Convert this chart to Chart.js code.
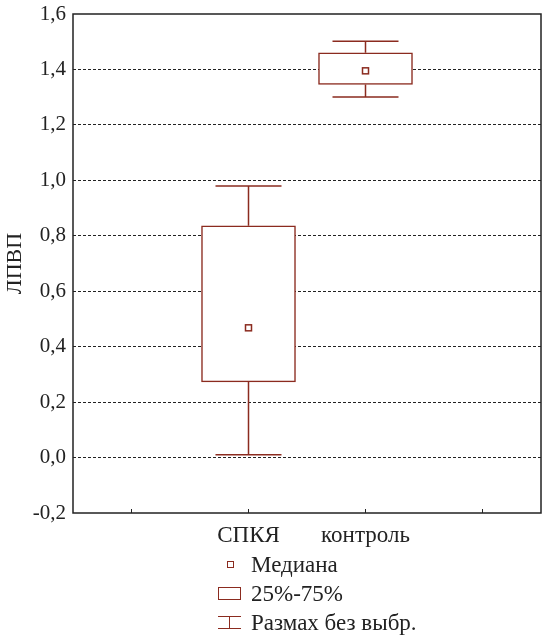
<!DOCTYPE html>
<html>
<head>
<meta charset="utf-8">
<script src="https://cdn.jsdelivr.net/npm/chart.js@4.4.0/dist/chart.umd.min.js"></script>
<style>
  body { margin: 0; background: #fff; }
  #wrap { position: relative; width: 544px; height: 642px; }
  #legend { position: absolute; left: 218px; top: 550px; font: 23px "Liberation Serif", serif; color: #222; }
  .item { position: relative; height: 29px; line-height: 29px; padding-left: 33px; white-space: nowrap; }
  .sym { position: absolute; box-sizing: border-box; }
  .med { left: 9px; top: 11px; width: 7px; height: 7px; border: 1.5px solid #8b2b1f; }
  .box { left: 0; top: 8px; width: 23px; height: 13px; border: 1.5px solid #8b2b1f; }
  .wh { left: 0; top: 8px; width: 23px; height: 13px; border-top: 1.5px solid #8b2b1f; border-bottom: 1.5px solid #8b2b1f; }
  .wh::after { content: ''; position: absolute; left: 10.5px; top: 0; width: 1.5px; height: 100%; background: #8b2b1f; }
</style>
</head>
<body>
<div id="wrap">
  <canvas id="chart" width="544" height="642"></canvas>
  <div id="legend">
    <div class="item"><span class="sym med"></span>Медиана</div>
    <div class="item"><span class="sym box"></span>25%-75%</div>
    <div class="item"><span class="sym wh"></span>Размах без выбр.</div>
  </div>
</div>
<script>
var categories = ['', 'СПКЯ', 'контроль', ''];
var q1 = [null, 0.273, 1.346, null];
var q3 = [null, 0.836, 1.460, null];
var median = [null, 0.468, 1.395, null];
var whiskerLow = [null, 0.010, 1.301, null];
var whiskerHigh = [null, 0.980, 1.502, null];
var yMin = -0.2, yMax = 1.6, yStep = 0.2;

var red = '#8b2b1f';

var boxExtras = {
  id: 'boxExtras',
  afterDatasetsDraw: function (chart) {
    var ctx = chart.ctx;
    var xs = chart.scales.x, ys = chart.scales.y;
    var area = chart.chartArea;
    ctx.save();
    ctx.strokeStyle = red;
    ctx.lineWidth = 1.5;
    for (var i = 0; i < categories.length; i++) {
      if (median[i] == null) continue;
      var x = xs.getPixelForValue(i);
      var hw = 33;
      ctx.beginPath();
      ctx.moveTo(x, ys.getPixelForValue(q3[i]));
      ctx.lineTo(x, ys.getPixelForValue(whiskerHigh[i]));
      ctx.moveTo(x - hw, ys.getPixelForValue(whiskerHigh[i]));
      ctx.lineTo(x + hw, ys.getPixelForValue(whiskerHigh[i]));
      ctx.moveTo(x, ys.getPixelForValue(q1[i]));
      ctx.lineTo(x, ys.getPixelForValue(whiskerLow[i]));
      ctx.moveTo(x - hw, ys.getPixelForValue(whiskerLow[i]));
      ctx.lineTo(x + hw, ys.getPixelForValue(whiskerLow[i]));
      ctx.stroke();
      var my = ys.getPixelForValue(median[i]);
      ctx.strokeRect(x - 3, my - 3, 6, 6);
    }
    // frame and inner ticks
    ctx.strokeStyle = '#222';
    ctx.lineWidth = 1.5;
    ctx.strokeRect(area.left, area.top, area.right - area.left, area.bottom - area.top);
    ctx.lineWidth = 1;
    ctx.beginPath();
    for (var j = 0; j < categories.length; j++) {
      var tx = xs.getPixelForTick(j);
      ctx.moveTo(tx, area.bottom);
      ctx.lineTo(tx, area.bottom - 4);
    }
    ctx.stroke();
    ctx.restore();
  }
};

new Chart(document.getElementById('chart'), {
  type: 'bar',
  data: {
    labels: categories,
    datasets: [{
      label: '25%-75%',
      data: categories.map(function (c, i) { return q1[i] == null ? null : [q1[i], q3[i]]; }),
      backgroundColor: '#ffffff',
      borderColor: red,
      borderWidth: 1.5,
      borderSkipped: false,
      barThickness: 94
    }]
  },
  options: {
    responsive: false,
    animation: false,
    layout: { padding: { top: 14, right: 3, left: 0, bottom: 0 } },
    plugins: { legend: { display: false }, tooltip: { enabled: false } },
    scales: {
      x: {
        grid: { display: false },
        border: { display: false },
        ticks: {
          padding: 1,
          color: '#222',
          font: { family: '"Liberation Serif", serif', size: 23 }
        },
        afterFit: function (s) { s.height = 129; s.paddingLeft = 0; s.paddingRight = 0; }
      },
      y: {
        min: yMin,
        max: yMax,
        grid: {
          drawTicks: false,
          color: function (c) {
            var v = c.tick.value;
            return (Math.abs(v - yMin) < 1e-6 || Math.abs(v - yMax) < 1e-6) ? 'rgba(0,0,0,0)' : '#222';
          },
          lineWidth: 1
        },
        border: { display: false, dash: [3, 2] },
        ticks: {
          stepSize: yStep,
          padding: 7,
          color: '#222',
          font: { family: '"Liberation Serif", serif', size: 21 },
          callback: function (v) { return v.toFixed(1).replace('.', ','); }
        },
        title: {
          display: true,
          text: 'ЛПВП',
          color: '#222',
          padding: 2,
          font: { family: '"Liberation Serif", serif', size: 22 }
        },
        afterFit: function (s) { s.width = 73; s.paddingTop = 0; s.paddingBottom = 0; }
      }
    }
  },
  plugins: [boxExtras]
});
</script>
</body>
</html>
